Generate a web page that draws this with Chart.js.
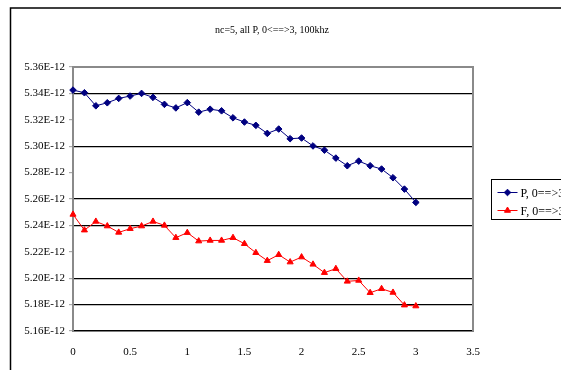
<!DOCTYPE html>
<html>
<head>
<meta charset="utf-8">
<script src="https://cdn.jsdelivr.net/npm/chart.js@4/dist/chart.umd.min.js"></script>
<style>
  html, body { margin: 0; padding: 0; background: #fff; overflow: hidden; }
  #wrap { position: relative; width: 561px; height: 370px; }
</style>
</head>
<body>
<div id="wrap"><canvas id="c" width="561" height="370"></canvas></div>
<script>
// Sweep position (0 ==> 3)
const xs = [0, 0.1, 0.2, 0.3, 0.4, 0.5, 0.6, 0.7, 0.8, 0.9, 1.0,
            1.1, 1.2, 1.3, 1.4, 1.5, 1.6, 1.7, 1.8, 1.9, 2.0,
            2.1, 2.2, 2.3, 2.4, 2.5, 2.6, 2.7, 2.8, 2.9, 3.0];

// Values in units of 1E-12
const pValues = [5.3425, 5.3405, 5.3306, 5.3329, 5.3362, 5.3380, 5.3400, 5.3370, 5.3317, 5.3290, 5.3330,
                 5.3258, 5.3280, 5.3268, 5.3215, 5.3183, 5.3158, 5.3097, 5.3130, 5.3057, 5.3062,
                 5.3002, 5.2970, 5.2910, 5.2852, 5.2887, 5.2852, 5.2827, 5.2761, 5.2675, 5.2574];
const fValues = [5.2483, 5.2364, 5.2430, 5.2395, 5.2347, 5.2375, 5.2395, 5.2430, 5.2400, 5.2307, 5.2345,
                 5.2281, 5.2286, 5.2286, 5.2307, 5.2261, 5.2193, 5.2133, 5.2178, 5.2122, 5.2160,
                 5.2105, 5.2042, 5.2072, 5.1976, 5.1983, 5.1890, 5.1920, 5.1892, 5.1796, 5.1789];

const seriesNames = ["P, 0==>3", "F, 0==>3"];
const chartTitle = "nc=5, all P, 0<==>3, 100khz";
const yMin = 5.16, yMax = 5.36, yStep = 0.02;
const xMin = 0, xMax = 3.5, xStep = 0.5;
// horizontal rules that are drawn in black
const blackRules = [5.34, 5.30, 5.26, 5.24, 5.20, 5.18];

const FONT = "'Liberation Serif', 'DejaVu Serif', serif";

const near = (a, b) => Math.abs(a - b) < 1e-6;

const decor = {
  id: 'decor',
  beforeDraw(chart) {
    const c = chart.ctx;
    c.save();
    c.fillStyle = '#fff';
    c.fillRect(0, 0, chart.width, chart.height);
    // outer frame
    c.strokeStyle = '#000';
    c.lineWidth = 1.5;
    c.beginPath();
    c.moveTo(10.5, 370);
    c.lineTo(10.5, 8);
    c.lineTo(561, 8);
    c.stroke();
    c.restore();
  },
  afterDraw(chart) {
    const c = chart.ctx;
    const a = chart.chartArea;
    c.save();
    // title
    c.fillStyle = '#000';
    c.font = "10px " + FONT;
    c.textAlign = 'center';
    c.textBaseline = 'middle';
    c.fillText(chartTitle, 272, 30);

    // plot frame top and right
    c.strokeStyle = '#8a8a8a';
    c.lineWidth = 2;
    c.beginPath();
    c.moveTo(a.left, a.top);
    c.lineTo(a.right, a.top);
    c.lineTo(a.right, a.bottom);
    c.stroke();

    // legend
    const bx = 491.5, by = 179.5, bw = 100, bh = 40;
    c.strokeStyle = '#000';
    c.lineWidth = 1;
    c.strokeRect(bx, by, bw, bh);
    c.font = "12px " + FONT;
    c.textAlign = 'left';
    chart.data.datasets.forEach((ds, i) => {
      const y = by + 13 + i * 18;
      c.strokeStyle = ds.borderColor;
      c.lineWidth = 1;
      c.beginPath();
      c.moveTo(bx + 6, y);
      c.lineTo(bx + 26, y);
      c.stroke();
      c.fillStyle = ds.pointBackgroundColor;
      c.strokeStyle = ds.pointBorderColor;
      Chart.helpers.drawPoint(c, {pointStyle: ds.pointStyle, radius: ds.pointRadius, borderWidth: 1}, bx + 16, y);
      c.fillStyle = '#000';
      c.fillText(ds.label, bx + 29, y + 1);
    });
    c.restore();
  }
};

new Chart(document.getElementById('c'), {
  type: 'line',
  data: {
    datasets: [
      {
        label: seriesNames[0],
        data: xs.map((x, i) => ({x: x, y: pValues[i]})),
        borderColor: '#000080',
        borderWidth: 1,
        pointStyle: 'rectRot',
        pointRadius: 3.3,
        pointBackgroundColor: '#000080',
        pointBorderColor: '#000080',
        tension: 0,
        clip: false
      },
      {
        label: seriesNames[1],
        data: xs.map((x, i) => ({x: x, y: fValues[i]})),
        borderColor: '#ff0000',
        borderWidth: 1,
        pointStyle: 'triangle',
        pointRadius: 3.5,
        pointBackgroundColor: '#ff0000',
        pointBorderColor: '#ff0000',
        tension: 0,
        clip: false
      }
    ]
  },
  options: {
    responsive: false,
    animation: false,
    events: [],
    layout: { padding: { top: 67, right: 88, left: 0, bottom: 0 } },
    plugins: { legend: { display: false }, title: { display: false }, tooltip: { enabled: false } },
    scales: {
      x: {
        type: 'linear',
        min: xMin, max: xMax,
        afterFit(s) { s.height = 39; },
        ticks: {
          stepSize: xStep,
          padding: 15,
          color: '#000',
          font: { family: FONT, size: 11 },
          callback: v => String(Math.round(v * 10) / 10)
        },
        grid: { display: false, drawTicks: false },
        border: { display: true, color: '#000', width: 1.5 }
      },
      y: {
        min: yMin, max: yMax,
        afterFit(s) { s.width = 73; },
        afterBuildTicks(s) {
          const t = [];
          for (let k = 0; k <= 10; k++) t.push({ value: +(yMin + k * yStep).toFixed(2) });
          s.ticks = t;
        },
        ticks: {
          padding: 4,
          color: '#000',
          font: { family: FONT, size: 11 },
          callback: v => v.toFixed(2) + 'E-12'
        },
        grid: {
          drawTicks: true,
          tickLength: 4,
          tickColor: '#aaa',
          lineWidth: 1.2,
          color: ctx => (ctx.tick && blackRules.some(r => near(r, ctx.tick.value))) ? '#000' : 'rgba(0,0,0,0)'
        },
        border: { display: true, color: '#8a8a8a', width: 2 }
      }
    }
  },
  plugins: [decor]
});
</script>
</body>
</html>
